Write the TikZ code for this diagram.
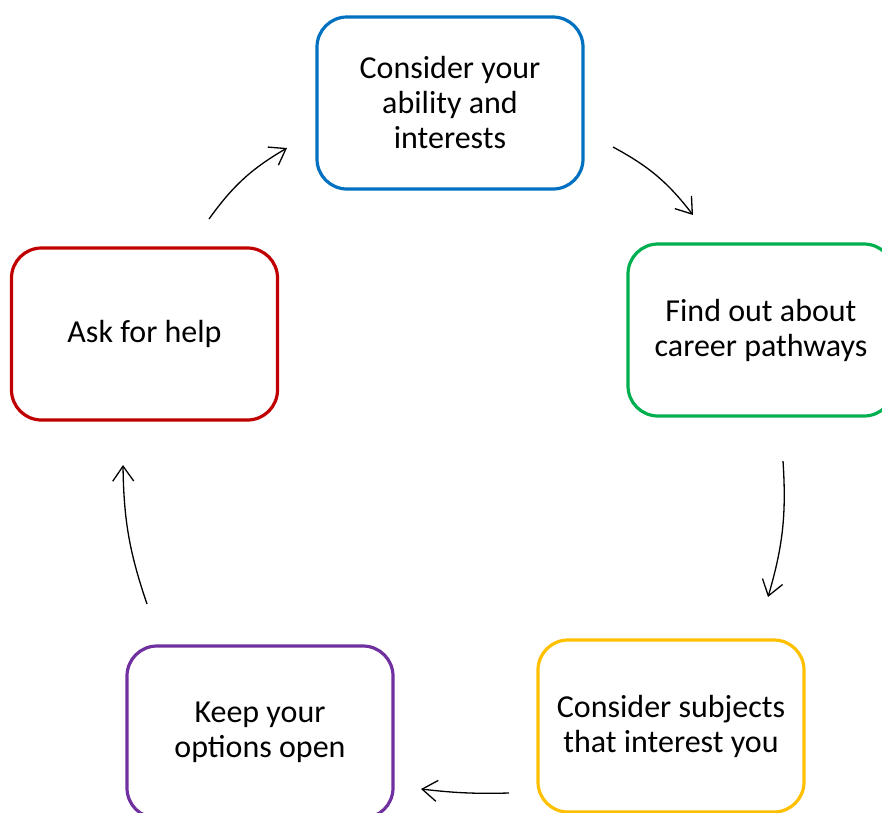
\documentclass[tikz,border=0pt]{standalone}
\usepackage{fontspec}
\setmainfont{Carlito}
\usetikzlibrary{arrows.meta,positioning}
\definecolor{stepblue}{HTML}{0070C0}
\definecolor{stepgreen}{HTML}{00B050}
\definecolor{stepyellow}{HTML}{FFC000}
\definecolor{steppurple}{HTML}{7030A0}
\definecolor{stepred}{HTML}{C00000}
\tikzset{
  stepbox/.style={draw=#1,line width=3.2pt,rounded corners=30pt,minimum width=266pt,
    minimum height=172pt,align=center,font=\fontsize{32}{35}\selectfont},
  cyclearrow/.style={line width=1.3pt,-{Straight Barb[length=15pt,width=21pt]}}
}
\begin{document}
\begin{tikzpicture}[x=1pt,y=-1pt]
		% page frame
		\useasboundingbox (0,0) rectangle (882,812);
		\clip (0,0) rectangle (882,812);
		% draw nodes
		\node[stepbox=stepblue] (ability) at (450,103) {Consider your\\ability and\\interests};
		\node[stepbox=stepgreen] (career) at (761,330) {Find out about\\career pathways};
		\node[stepbox=stepyellow] (subjects) at (671,726) {Consider subjects\\that interest you};
		\node[stepbox=steppurple] (options) at (260,732) {Keep your\\options open};
		\node[stepbox=stepred] (help) at (144.5,334) {Ask for help};
		% arrow ends
		\coordinate (a1) at (613,147);  \coordinate (b1) at (693,215);
		\coordinate (a2) at (783,461);  \coordinate (b2) at (768,597);
		\coordinate (a3) at (509,793);  \coordinate (b3) at (421,789);
		\coordinate (a4) at (147,604);  \coordinate (b4) at (123,465);
		\coordinate (a5) at (209,219);  \coordinate (b5) at (287,148);
		% draw arrows
		\draw[cyclearrow] (a1) to[bend left=12] (b1);
		\draw[cyclearrow] (a2) to[bend left=10] (b2);
		\draw[cyclearrow] (a3) to[bend left=4] (b3);
		\draw[cyclearrow] (a4) to[bend left=9] (b4);
		\draw[cyclearrow] (a5) to[bend left=12] (b5);
\end{tikzpicture}
\end{document}
